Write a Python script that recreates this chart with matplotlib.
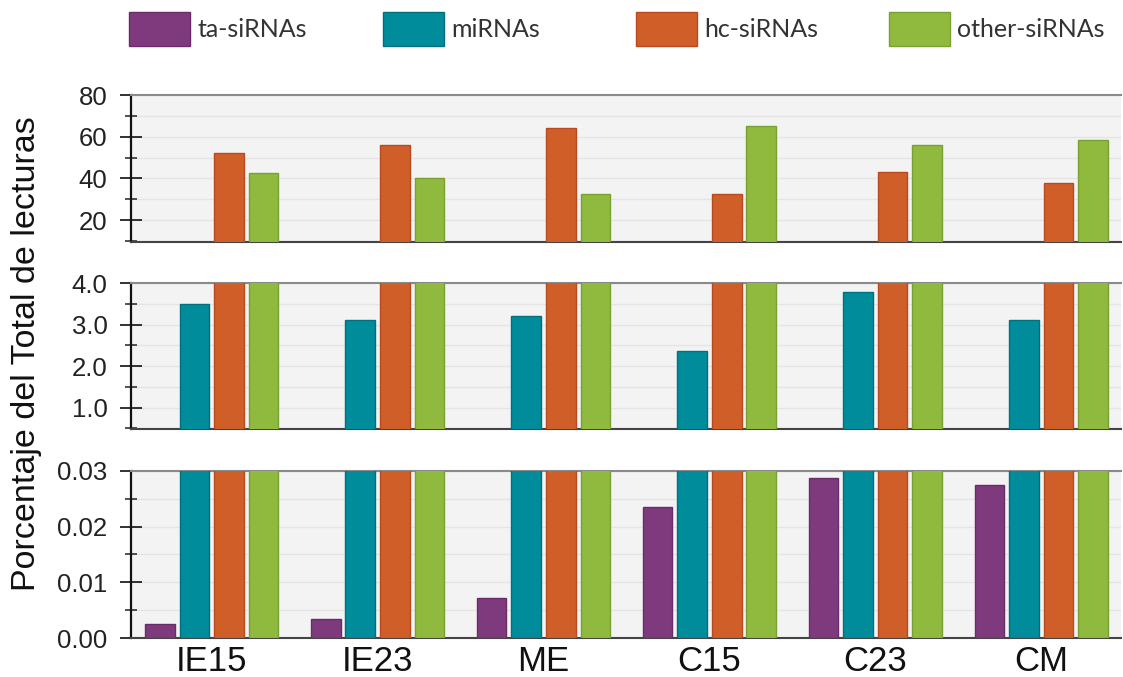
import numpy as np
import matplotlib
matplotlib.use("Agg")
import matplotlib.pyplot as plt
from matplotlib.ticker import MultipleLocator, FormatStrFormatter

# reads as percentage of total reads, per library
samples = ["IE15", "IE23", "ME", "C15", "C23", "CM"]
series = ["ta-siRNAs", "miRNAs", "hc-siRNAs", "other-siRNAs"]

ta_sirnas = [0.0025, 0.0034, 0.0072, 0.0235, 0.0286, 0.0275]
mirnas = [3.49, 3.12, 3.20, 2.37, 3.79, 3.12]
hc_sirnas = [52.4, 55.8, 64.3, 32.5, 43.0, 37.6]
other_sirnas = [42.7, 40.1, 32.5, 65.3, 55.8, 58.6]

colors = ["#7f3a7d", "#008c9b", "#d05e28", "#8fba3d"]
edges = ["#6a2c69", "#00707c", "#b94a1e", "#79a033"]

values = [ta_sirnas, mirnas, hc_sirnas, other_sirnas]

num_font = "Liberation Sans"

fig = plt.figure(figsize=(11.23, 6.77), dpi=100)

# three panels of the same bars, each with its own y range (broken axis)
panels = [
    # (bottom, height, ylim, major, minor, fmt)
    (0.6425, 0.2171, (9.45, 80), 20, 10, "%d"),
    (0.3659, 0.2157, (0.48, 4.0), 1.0, 0.5, "%.1f"),
    (0.0572, 0.2476, (0.0, 0.03), 0.01, 0.005, "%.2f"),
]

x = np.arange(len(samples))
pitch = 0.208
width = 0.178
offsets = (np.arange(4) - 1.5) * pitch

axes = []
for bottom, height, ylim, major, minor, fmt in panels:
    ax = fig.add_axes([0.1167, bottom, 0.8816, height])
    ax.set_facecolor("#f4f3f4")
    bars = []
    for i in range(4):
        b = ax.bar(x + offsets[i], values[i], width, color=colors[i],
                   edgecolor=edges[i], linewidth=1.0, label=series[i], zorder=3)
        bars.append(b)
    ax.set_xlim(-0.485, 5.48)
    ax.set_ylim(*ylim)
    ax.yaxis.set_major_locator(MultipleLocator(major))
    ax.yaxis.set_minor_locator(MultipleLocator(minor))
    ax.yaxis.set_major_formatter(FormatStrFormatter(fmt))
    ax.grid(True, which="both", axis="y", color="#e4e4e4", linewidth=1.0, zorder=0)
    ax.tick_params(axis="y", which="major", direction="inout", length=16,
                   width=1.3, color="#222222", labelsize=18.5, pad=9)
    ax.tick_params(axis="y", which="minor", direction="inout", length=8,
                   width=1.1, color="#222222")
    for lab in ax.get_yticklabels():
        lab.set_fontfamily(num_font)
        lab.set_color("#222222")
    ax.spines["right"].set_visible(False)
    ax.spines["left"].set_color("#111111")
    ax.spines["left"].set_linewidth(1.6)
    ax.spines["top"].set_color("#8a8a8a")
    ax.spines["top"].set_linewidth(1.5)
    ax.spines["bottom"].set_color("#444444")
    ax.spines["bottom"].set_linewidth(1.5)
    ax.tick_params(axis="x", length=0)
    ax.set_xticks(x)
    ax.set_xticklabels([])
    axes.append((ax, bars))

# sample names under the lowest panel
ax_low = axes[-1][0]
ax_low.set_xticklabels(samples, fontsize=25, fontfamily=num_font, color="#111111")
ax_low.tick_params(axis="x", pad=5)

fig.text(0.024, 1 - 354 / 677, "Porcentaje del Total de lecturas",
         rotation=90, ha="center", va="center", fontsize=24.5,
         fontfamily=num_font, color="#111111")

# legend entries spread evenly along the top
bars = axes[0][1]
legend_x = [129, 383, 636, 889]
for i in range(4):
    leg = fig.legend([bars[i]], [series[i]], loc="center left",
                     bbox_to_anchor=(legend_x[i] / 1123, 1 - 29 / 677),
                     frameon=False, borderpad=0, borderaxespad=0,
                     handlelength=2.44, handleheight=1.72, handletextpad=0.28,
                     prop={"family": "Lato", "size": 18})
    for t in leg.get_texts():
        t.set_color("#333333")

fig.savefig("out.png", dpi=100)
